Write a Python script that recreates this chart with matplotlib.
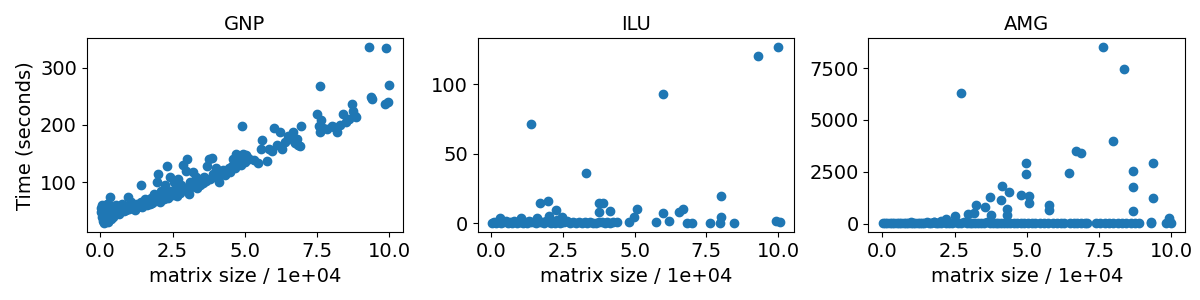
import matplotlib
matplotlib.use("Agg")
import matplotlib.pyplot as plt

plt.rcParams['font.size'] = 14
plt.rcParams['axes.titlesize'] = 14

titles = ["GNP", "ILU", "AMG"]
xlabel = "matrix size / 1e+04"
ylabel = "Time (seconds)"

gnp_x = [0.02, 0.03, 0.05, 0.05, 0.08, 0.10, 0.10, 0.12, 0.15, 0.15, 0.18, 0.20, 0.20, 0.22, 0.25, 0.25, 0.28, 0.30, 0.32, 0.35, 0.35, 0.40, 0.40, 0.45, 0.45, 0.50, 0.50,
         0.55, 0.60, 0.65, 0.70, 0.75, 0.80, 0.85, 0.90, 0.95, 1.00, 1.00, 1.05, 1.10, 1.15, 1.20, 1.25, 1.30, 1.35, 1.40, 1.40, 1.45, 1.50,
         1.55, 1.60, 1.65, 1.70, 1.75, 1.80, 1.85, 1.90, 1.95, 2.00, 2.00, 2.05, 2.10, 2.15, 2.20, 2.25, 2.30, 2.30, 2.35, 2.40, 2.45, 2.50,
         2.55, 2.60, 2.65, 2.70, 2.75, 2.80, 2.85, 2.90, 2.95, 3.00, 3.00, 3.05, 3.10, 3.15, 3.20, 3.25, 3.30, 3.35, 3.40, 3.45, 3.50,
         3.55, 3.60, 3.65, 3.70, 3.75, 3.80, 3.85, 3.90, 3.95, 4.00, 4.05, 4.10, 4.15, 4.20, 4.25, 4.30, 4.35, 4.40, 4.45, 4.50,
         4.55, 4.60, 4.65, 4.70, 4.75, 4.80, 4.85, 4.90, 4.90, 4.95, 5.00, 5.05, 5.10, 5.15, 5.30, 5.45, 5.55, 5.60, 5.75,
         5.85, 5.95, 6.00, 6.10, 6.20, 6.30, 6.40, 6.50, 6.60, 6.65, 6.70, 6.75, 6.80, 6.85, 6.90, 6.95,
         7.50, 7.55, 7.60, 7.60, 7.65, 7.70, 7.85, 8.00, 8.10, 8.20, 8.30, 8.40, 8.50, 8.60, 8.70, 8.75, 8.80, 8.85,
         9.29, 9.35, 9.40, 9.85, 9.90, 9.94, 9.98]
gnp_y = [55, 48, 40, 60, 33, 52, 45, 28, 38, 58, 50, 43, 35, 62, 30, 55, 47, 40, 74, 52, 36, 45, 58, 50, 40, 55, 47,
         60, 50, 44, 55, 62, 50, 57, 52, 75, 60, 54, 65, 55, 58, 52, 62, 56, 60, 95, 66, 57, 63,
         70, 60, 66, 62, 72, 64, 80, 68, 100, 114, 72, 66, 85, 75, 70, 95, 128, 80, 72, 110, 85, 78,
         100, 90, 76, 105, 82, 95, 130, 88, 120, 140, 90, 80, 100, 92, 118, 95, 110, 90, 100, 96, 105,
         98, 110, 102, 128, 140, 105, 143, 115, 110, 125, 112, 100, 118, 115, 122, 112, 116, 120, 125, 118,
         128, 140, 125, 150, 135, 145, 130, 198, 140, 150, 135, 148, 142, 140, 138, 134, 158, 174, 137,
         158, 155, 194, 165, 187, 158, 170, 180, 178, 187, 172, 168, 175, 165, 163, 199,
         219, 199, 268, 187, 208, 195, 193, 198, 196, 187, 200, 219, 205, 210, 237, 225, 215, 214,
         336, 249, 246, 236, 335, 241, 269]

ilu_x = [0.02, 0.08, 0.15, 0.22, 0.29, 0.35, 0.42, 0.50, 0.58, 0.65, 0.72, 0.80, 0.88, 0.95, 1.03, 1.10, 1.18, 1.25, 1.32, 1.40,
         1.48, 1.55, 1.62, 1.70, 1.78, 1.85, 1.92, 2.00, 2.08, 2.15, 2.22, 2.30, 2.38, 2.45, 2.55, 2.65, 2.75, 2.85, 2.95, 3.05,
         3.15, 3.25, 3.35, 3.45, 3.55, 3.65, 3.75, 3.85, 3.95, 4.05, 4.15, 4.25, 4.37,
         10.00, 9.31, 5.98, 1.38, 3.31, 8.01, 1.69, 1.99, 2.24, 3.77, 3.91, 3.74, 4.14, 5.08, 4.97, 4.80, 5.98, 6.21, 5.75,
         6.55, 6.67, 6.84, 6.99, 7.62, 8.01, 7.99, 8.45, 9.94, 10.06, 2.01, 2.47, 0.29, 1.03, 1.60]
ilu_y = [0.5, 1.2, 0.3, 0.8, 1.5, 0.2, 0.9, 1.6, 0.4, 1.1, 0.6, 1.8, 0.3, 0.9, 1.4, 0.5, 1.2, 0.2, 1.7, 0.8,
         1.1, 0.4, 1.6, 0.7, 1.2, 0.3, 2.0, 0.9, 0.4, 1.3, 0.6, 2.2, 0.5, 1.1, 0.8, 1.5, 0.4, 1.0, 0.6, 1.3,
         0.5, 0.9, 0.3, 1.2, 0.6, 0.4, 1.0, 0.7, 0.3, 1.1, 0.5, 0.9, 1.0,
         126.5, 120.0, 92.8, 71.7, 36.3, 20.0, 14.7, 16.1, 9.6, 14.4, 14.4, 8.4, 9.1, 10.6, 4.8, 1.0, 7.2, 1.9, 1.2,
         7.9, 10.3, 0.0, 0.0, 0.2, 4.3, 0.0, 0.2, 1.9, 1.4, 5.5, 4.3, 3.6, 3.6, 3.6]

amg_x = [0.02, 0.10, 0.18, 0.26, 0.34, 0.42, 0.50, 0.58, 0.66, 0.74, 0.82, 0.90, 0.98, 1.06, 1.14, 1.22, 1.30, 1.38, 1.46, 1.54,
         1.62, 1.70, 1.78, 1.86, 1.94, 2.02, 2.12, 2.22, 2.32, 2.42, 2.52, 2.62, 2.72, 2.82, 2.92, 3.02, 3.12, 3.22, 3.32, 3.42,
         3.52, 3.62, 3.72, 3.82, 3.92, 4.02, 4.12, 4.22, 4.32, 4.42, 4.55, 4.68, 4.80, 4.92, 5.05, 5.18, 5.30, 5.45, 5.60, 5.75,
         5.90, 6.05, 6.20, 6.30, 6.50, 6.62, 6.75, 6.88, 7.00, 7.10, 7.40, 7.55, 7.70, 7.85, 8.00, 8.15, 8.30, 8.45, 8.60, 8.75,
         8.88, 9.30, 9.82, 9.98,
         7.65, 8.37, 2.73, 8.00, 6.71, 6.87, 9.37, 4.96, 4.96, 6.45, 8.68, 8.68, 9.37, 8.68, 4.14, 4.39, 3.73, 4.10, 4.79,
         5.07, 5.07, 3.24, 3.55, 3.76, 2.98, 3.16, 4.33, 4.33, 5.76, 5.76, 2.50, 2.21, 2.04, 9.91, 9.95, 9.31, 1.00, 1.80]
amg_y = [10, 25, 5, 40, 15, 30, 8, 45, 20, 12, 35, 5, 50, 18, 28, 10, 42, 22, 8, 55,
         15, 30, 60, 12, 40, 20, 70, 25, 45, 10, 55, 30, 15, 65, 20, 40, 10, 50, 25, 35,
         15, 60, 20, 45, 10, 30, 50, 15, 40, 25, 10, 35, 20, 45, 15, 30, 10, 40, 20, 35,
         15, 25, 10, 30, 20, 40, 15, 25, 10, 30, 20, 35, 15, 25, 10, 30, 20, 40, 15, 25,
         10, 30, 20, 15,
         8511, 7443, 6278, 3964, 3495, 3414, 2929, 2929, 2395, 2443, 2556, 1780, 1246, 599, 1812, 1521, 1262, 1133, 1391,
         1343, 987, 906, 777, 421, 453, 534, 696, 421, 906, 663, 388, 243, 129, 291, 97, 81, 97, 97]

data = [(gnp_x, gnp_y), (ilu_x, ilu_y), (amg_x, amg_y)]

fig, axes = plt.subplots(1, 3, figsize=(12, 3), dpi=100)
for ax, title, (xs, ys) in zip(axes, titles, data):
    ax.scatter(xs, ys, color="#1f77b4")
    ax.set_title(title)
    ax.set_xlabel(xlabel)
    ax.set_xticks([0.0, 2.5, 5.0, 7.5, 10.0])
axes[0].set_ylabel(ylabel)
axes[0].set_yticks([100, 200, 300])
axes[1].set_yticks([0, 50, 100])
axes[2].set_yticks([0, 2500, 5000, 7500])
fig.subplots_adjust(left=0.0722, right=0.9875, bottom=0.2257, top=0.8723, wspace=0.235)
fig.savefig("out.png", dpi=100)
